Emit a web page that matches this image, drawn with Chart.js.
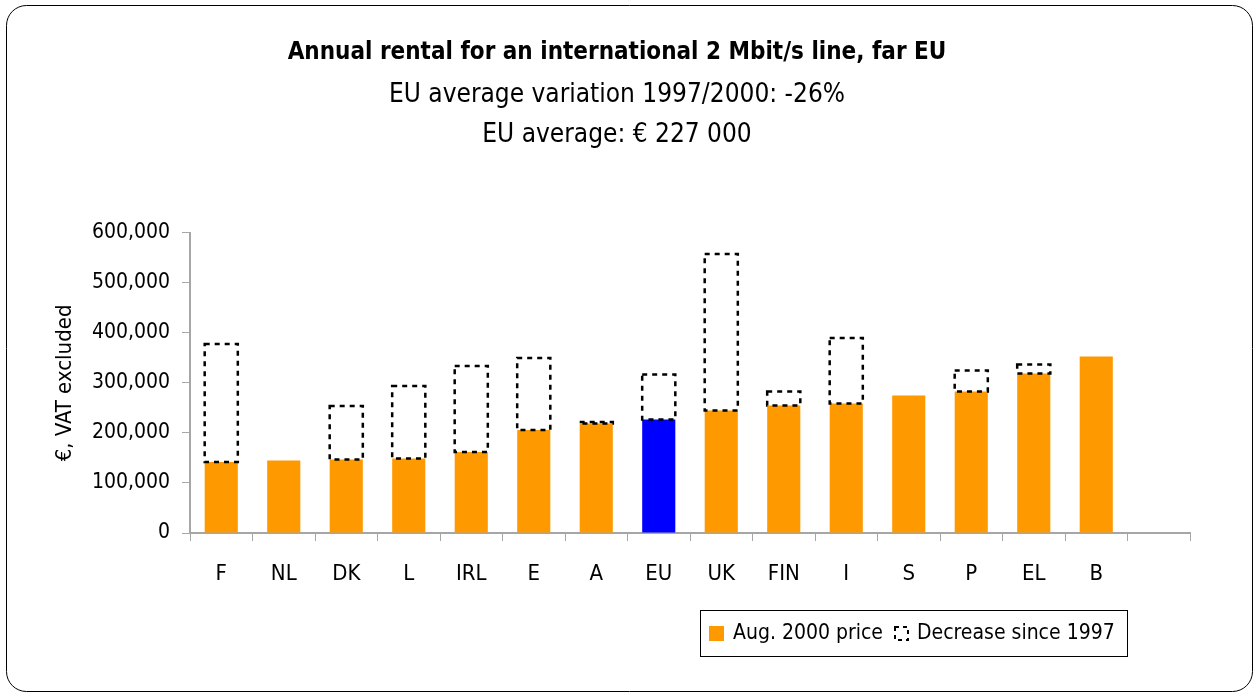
<!DOCTYPE html>
<html>
<head>
<meta charset="utf-8">
<script src="https://cdn.jsdelivr.net/npm/chart.js@4.4.1/dist/chart.umd.min.js"></script>
<style>
    html, body { margin: 0; padding: 0; background: #fff; }
    #wrap { width: 1256px; height: 697px; }
</style>
</head>
<body>
<div id="wrap"><canvas id="rentChart" width="1256" height="697"></canvas></div>
<script>
const countries = ["F", "NL", "DK", "L", "IRL", "E", "A", "EU", "UK", "FIN", "I", "S", "P", "EL", "B", ""];
const price2000 = [142000, 145000, 147000, 149000, 162000, 206000, 219000, 227000, 245000, 255000, 259000, 275000, 283000, 319000, 353000, null];
const decrease = [236000, 0, 107000, 145000, 172000, 144000, 3000, 90000, 313000, 28000, 131000, 0, 42000, 18000, 0, null];
const yTicks = [0, 100000, 200000, 300000, 400000, 500000, 600000];

const FONT = "'Liberation Sans Narrow', 'Arial Narrow', 'DejaVu Sans Condensed', sans-serif";
const ORANGE = "#ff9900";
const BLUE = "#0000ff";
const AXIS = "#a6a6a6";

Chart.defaults.font.family = FONT;
Chart.defaults.color = "#000";

// outer rounded frame
const framePlugin = {
    id: "frame",
    beforeDraw(chart) {
        const ctx = chart.ctx;
        ctx.save();
        ctx.fillStyle = "#fff";
        ctx.fillRect(0, 0, chart.width, chart.height);
        ctx.strokeStyle = "#000";
        ctx.lineWidth = 1;
        ctx.beginPath();
        ctx.roundRect(6.5, 5.5, 1246, 686, 20);
        ctx.stroke();
        ctx.restore();
    }
};

// bars can't do dashed borders, so stroke them here from the bar geometry
const dashedPlugin = {
    id: "dashedBoxes",
    afterDatasetsDraw(chart) {
        const ctx = chart.ctx;
        const meta = chart.getDatasetMeta(1);
        ctx.save();
        ctx.strokeStyle = "#000";
        ctx.lineWidth = 2.5;
        ctx.setLineDash([5, 5]);
        meta.data.forEach((bar, i) => {
            if (!decrease[i]) return;
            const p = bar.getProps(["x", "y", "base", "width"], true);
            ctx.strokeRect(p.x - p.width / 2, p.y, p.width, p.base - p.y);
        });
        ctx.restore();
    }
};

// boxed legend, bottom right
const legendPlugin = {
    id: "boxLegend",
    afterDraw(chart) {
        const ctx = chart.ctx;
        const sets = chart.data.datasets;
        ctx.save();
        ctx.strokeStyle = "#000";
        ctx.lineWidth = 1;
        ctx.strokeRect(700.5, 610.5, 427, 46);
        ctx.font = "21px " + FONT;
        ctx.textBaseline = "middle";

        ctx.fillStyle = ORANGE;
        ctx.fillRect(709, 626, 15, 15);
        ctx.fillStyle = "#000";
        ctx.fillText(sets[0].label, 733, 634);

        ctx.lineWidth = 2;
        ctx.setLineDash([4, 4]);
        ctx.strokeRect(895, 627, 13, 13);
        ctx.setLineDash([]);
        ctx.fillText(sets[1].label, 917, 634);
        ctx.restore();
    }
};

new Chart(document.getElementById("rentChart"), {
    type: "bar",
    data: {
        labels: countries,
        datasets: [{
            label: "Aug. 2000 price",
            data: price2000,
            backgroundColor: countries.map(c => c === "EU" ? BLUE : ORANGE),
            borderWidth: 0
        }, {
            label: "Decrease since 1997",
            data: decrease,
            backgroundColor: "rgba(0,0,0,0)",
            borderWidth: 0
        }]
    },
    options: {
        responsive: false,
        animation: false,
        events: [],
        categoryPercentage: 1,
        barPercentage: 0.53,
        layout: {
            padding: { left: 44, right: 66, top: 0, bottom: 0 }
        },
        plugins: {
            legend: { display: false },
            tooltip: { enabled: false },
            title: {
                display: true,
                text: "Annual rental for an international 2 Mbit/s line, far EU",
                font: { size: 24, weight: "bold" },
                lineHeight: 1.2,
                padding: { top: 38, bottom: 8 }
            },
            subtitle: {
                display: true,
                text: ["EU average variation 1997/2000: -26%", "EU average: \u20ac 227 000"],
                font: { size: 26, lineHeight: 1.54 },
                padding: { top: 0, bottom: 78 }
            }
        },
        scales: {
            x: {
                stacked: true,
                grid: {
                    offset: true,
                    drawOnChartArea: false,
                    color: AXIS,
                    tickLength: 8
                },
                border: { color: AXIS, width: 2 },
                ticks: {
                    font: { size: 22 },
                    padding: 20,
                    maxRotation: 0,
                    autoSkip: false
                },
                afterFit(scale) { scale.height = 164; }
            },
            y: {
                stacked: true,
                min: 0,
                max: 600000,
                afterBuildTicks(scale) {
                    scale.ticks = yTicks.map(v => ({ value: v }));
                },
                grid: {
                    drawOnChartArea: false,
                    color: AXIS,
                    tickLength: 8
                },
                border: { color: AXIS, width: 2 },
                ticks: {
                    font: { size: 21 },
                    padding: 12,
                    callback: v => v.toLocaleString("en-US")
                },
                title: {
                    display: true,
                    text: "\u20ac, VAT excluded",
                    font: { size: 22 },
                    padding: { top: 8, bottom: 0 }
                },
                afterFit(scale) { scale.width = 146; }
            }
        }
    },
    plugins: [framePlugin, dashedPlugin, legendPlugin]
});
</script>
</body>
</html>
